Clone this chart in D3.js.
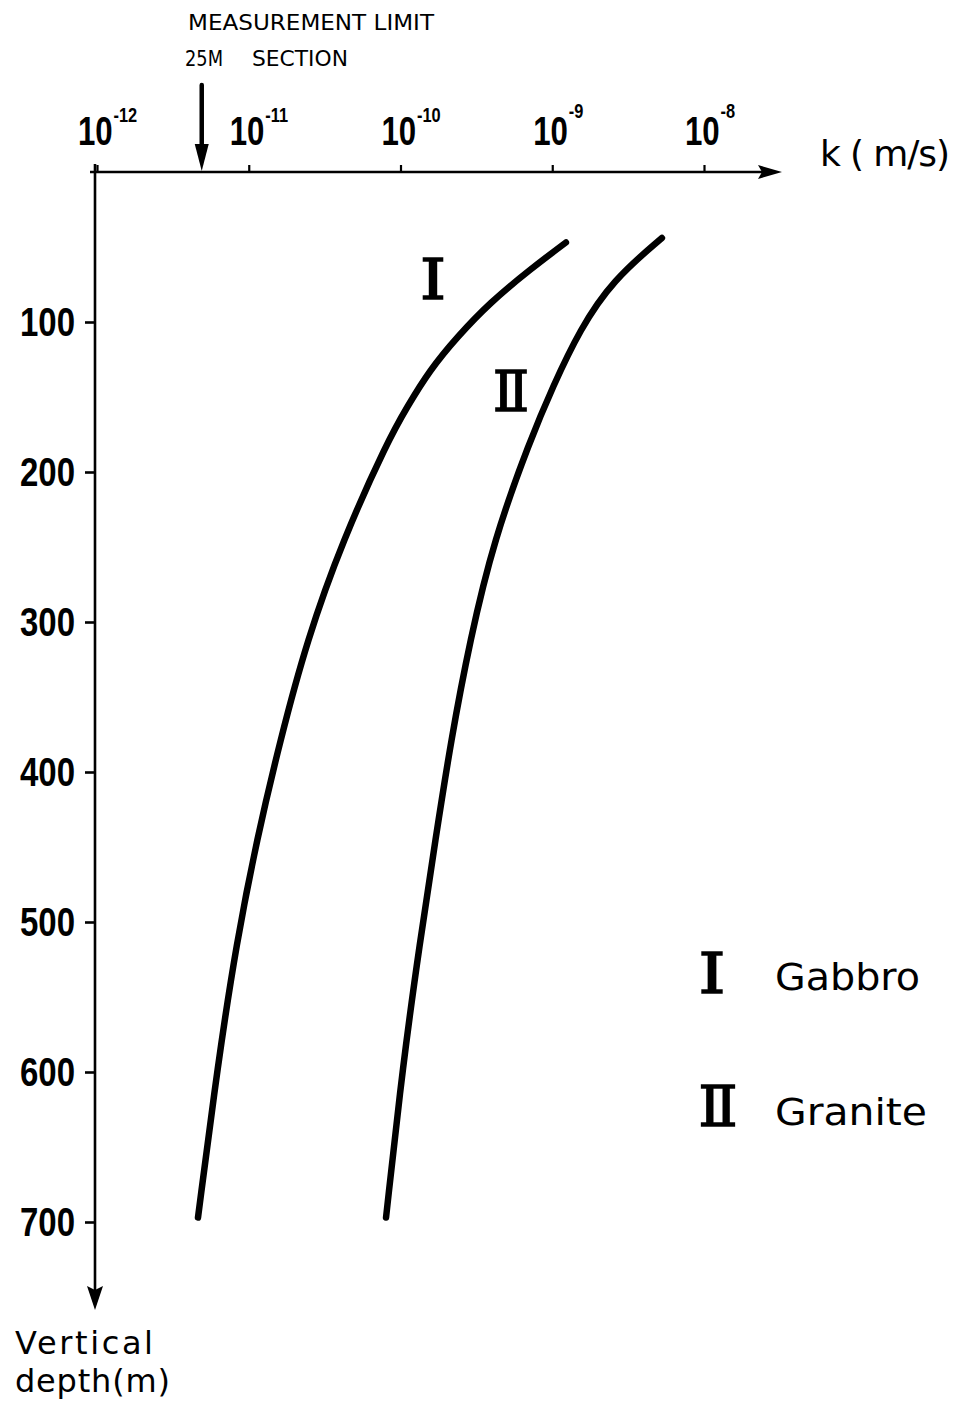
<!DOCTYPE html>
<html><head><meta charset="utf-8">
<script src="https://cdn.jsdelivr.net/npm/d3@7"></script>
<style>
body{margin:0;background:#fff;}
text{font-family:"DejaVu Sans",sans-serif;fill:#000;}
.narrow{font-family:"Liberation Sans Narrow","Liberation Sans","DejaVu Sans",sans-serif;}
</style></head>
<body><svg id="c" width="962" height="1404"></svg>
<script>
// ---- data ----
const xTicks = [1e-12, 1e-11, 1e-10, 1e-9, 1e-8];
const xTickExp = ["-12", "-11", "-10", "-9", "-8"];
const yTicks = [100, 200, 300, 400, 500, 600, 700];
const gabbroDepth = [47, 65, 87, 110, 132, 157, 179, 245, 312, 379, 445, 514, 594, 697];
const gabbroK = [1.23e-9, 7.13e-10, 3.89e-10, 2.36e-10, 1.56e-10, 1.10e-10, 8.27e-11, 4.18e-11, 2.42e-11, 1.61e-11, 1.13e-11, 8.3e-12, 6.27e-12, 4.63e-12];
const graniteDepth = [44, 72, 105, 143, 179, 245, 312, 379, 445, 514, 594, 697];
const graniteK = [5.28e-9, 2.51e-9, 1.52e-9, 1.01e-9, 7.13e-10, 4.13e-10, 2.87e-10, 2.15e-10, 1.70e-10, 1.34e-10, 1.04e-10, 8.03e-11];
const measurementLimitK = 4.9e-12;
const seriesNames = ["Gabbro", "Granite"];
const seriesNumerals = ["Ⅰ", "Ⅱ"];

const svg = d3.select("#c");
const x = d3.scaleLog().domain([1e-12, 1e-8]).range([97, 704]);
const y = d3.scaleLinear().domain([0, 700]).range([172, 1222]);
const x0 = x(1e-12), y0 = y(0);
const ax = x0 - 2;

// axes lines with arrows
svg.append("line").attr("x1", x0 - 7).attr("x2", 770).attr("y1", y0).attr("y2", y0)
  .attr("stroke", "#000").attr("stroke-width", 2.6);
svg.append("path").attr("d", `M${782},${y0} L${758},${y0-7} L${762},${y0} L${758},${y0+7} Z`).attr("fill", "#000");
svg.append("line").attr("x1", ax).attr("x2", ax).attr("y1", y0 - 8).attr("y2", 1298)
  .attr("stroke", "#000").attr("stroke-width", 2.6);
svg.append("path").attr("d", `M${ax},${1310} L${ax-8},${1286} L${ax},${1290} L${ax+8},${1286} Z`).attr("fill", "#000");

// x ticks via axis
const gx = svg.append("g").attr("transform", `translate(0,${y0})`)
  .call(d3.axisTop(x).tickValues(xTicks).tickSize(7).tickFormat(""));
gx.select(".domain").remove();
gx.selectAll("line").attr("stroke", "#000").attr("stroke-width", 2.2);
// x tick labels: "10" with superscript exponent in one text element (horizontally condensed)
xTicks.forEach((t, i) => {
  const tx = svg.append("text").attr("class", "narrow")
    .attr("transform", `translate(${x(t) - 19},145) scale(0.78,1)`)
    .attr("font-weight", "bold");
  tx.append("tspan").attr("font-size", 40).text("10");
  tx.append("tspan").attr("font-size", 21).attr("dy", i < 3 ? -23 : -27).attr("dx", 1).text(xTickExp[i]);
});
svg.append("text").attr("x", 820).attr("y", 166).attr("font-size", 36).attr("textLength", 130)
  .attr("lengthAdjust", "spacing").text("k ( m/s)");

// y ticks via axis
const gy = svg.append("g").attr("transform", `translate(${ax},0)`)
  .call(d3.axisLeft(y).tickValues(yTicks).tickSize(10).tickFormat(""));
gy.select(".domain").remove();
gy.selectAll("line").attr("stroke", "#000").attr("stroke-width", 2.6);
yTicks.forEach(t => {
  svg.append("text").attr("class", "narrow").attr("x", 75).attr("y", y(t) + 14).attr("text-anchor", "end")
    .attr("font-size", 40).attr("font-weight", "bold").attr("textLength", 55)
    .attr("lengthAdjust", "spacingAndGlyphs").text(t);
});
// y-axis title in two lines
svg.append("text").attr("x", 15).attr("y", 1354).attr("font-size", 32).attr("letter-spacing", 2.6).text("Vertical");
svg.append("text").attr("x", 15).attr("y", 1392).attr("font-size", 32).attr("letter-spacing", 0.8).text("depth(m)");

// measurement limit
const mx = x(measurementLimitK);
svg.append("line").attr("x1", mx).attr("x2", mx).attr("y1", 85).attr("y2", 150)
  .attr("stroke", "#000").attr("stroke-width", 4.5).attr("stroke-linecap", "round");
svg.append("path").attr("d", `M${mx},${171} L${mx-7},${144} L${mx+7},${144} Z`).attr("fill", "#000");
svg.append("text").attr("x", 188).attr("y", 30).attr("font-size", 21).attr("textLength", 246)
  .attr("lengthAdjust", "spacingAndGlyphs").text("MEASUREMENT LIMIT");
svg.append("text").attr("x", 185).attr("y", 66).attr("font-size", 21).attr("textLength", 38)
  .attr("lengthAdjust", "spacingAndGlyphs").text("25M");
svg.append("text").attr("x", 252).attr("y", 66).attr("font-size", 21).attr("textLength", 96)
  .attr("lengthAdjust", "spacingAndGlyphs").text("SECTION");

// curves
const line = d3.line().x(d => x(d[1])).y(d => y(d[0])).curve(d3.curveBasis);
const series = [d3.zip(gabbroDepth, gabbroK), d3.zip(graniteDepth, graniteK)];
svg.selectAll("path.curve").data(series).join("path").attr("class", "curve")
  .attr("d", line).attr("fill", "none").attr("stroke", "#000").attr("stroke-width", 6.5)
  .attr("stroke-linecap", "round");

// numeral helper
function numeral(cx, base, i, w) {
  svg.append("text").attr("x", cx).attr("y", base).attr("text-anchor", "middle")
    .style("font-family", "'DejaVu Serif', serif")
    .attr("font-size", 56).attr("textLength", w).attr("lengthAdjust", "spacingAndGlyphs")
    .attr("stroke", "#000").attr("stroke-width", 1.6)
    .text(seriesNumerals[i]);
}
// curve labels
numeral(433, 299, 0, 26);
numeral(511, 411, 1, 36);

// legend
numeral(712, 993, 0, 27);
numeral(718, 1126, 1, 39);
svg.append("text").attr("x", 775).attr("y", 990).attr("font-size", 38).attr("textLength", 145)
  .attr("lengthAdjust", "spacingAndGlyphs").text(seriesNames[0]);
svg.append("text").attr("x", 775).attr("y", 1125).attr("font-size", 38).attr("textLength", 152)
  .attr("lengthAdjust", "spacingAndGlyphs").text(seriesNames[1]);
</script></body></html>
